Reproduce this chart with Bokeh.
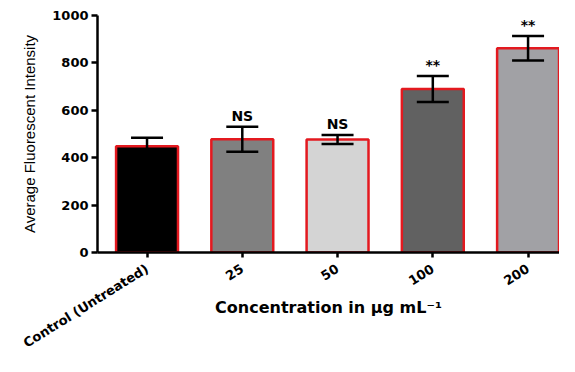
from bokeh.plotting import figure
from bokeh.models import ColumnDataSource, Range1d, FixedTicker, Whisker, TeeHead
from bokeh.core.properties import value
from bokeh.embed import file_html
from bokeh.resources import INLINE

# ---- data ----
categories = ["Control (Untreated)", "25", "50", "100", "200"]
means = [448, 478, 477, 690, 862]
errors = [36, 53, 19, 55, 52]
bar_colors = ["#000000", "#808080", "#d4d4d4", "#616161", "#a1a1a5"]
annotations = ["", "NS", "NS", "**", "**"]
y_ticks = [0, 200, 400, 600, 800, 1000]

positions = list(range(len(categories)))
src = ColumnDataSource(dict(
    x=positions,
    top=means,
    upper=[m + e for m, e in zip(means, errors)],
    lower=[m - e for m, e in zip(means, errors)],
    color=bar_colors,
    note=annotations,
))

p = figure(width=559, height=356, output_backend="svg", toolbar_location=None,
           x_range=Range1d(-0.52, 4.33), y_range=Range1d(0, 1000),
           min_border_left=97, min_border_right=0, min_border_top=15,
           min_border_bottom=104)
p.outline_line_color = None
p.xgrid.visible = False
p.ygrid.visible = False
p.background_fill_color = "white"

p.vbar(x="x", top="top", width=0.65, bottom=0, source=src,
       fill_color="color", line_color="#e3191f", line_width=2.5)

w = Whisker(source=src, base="x", upper="upper", lower="lower",
            line_color="black", line_width=2.5, level="annotation",
            upper_head=TeeHead(size=32, line_color="black", line_width=2.5),
            lower_head=TeeHead(size=32, line_color="black", line_width=2.5))
p.add_layout(w)

p.text(x="x", y="upper", text="note", source=src, text_align="center",
       text_baseline="bottom", y_offset=-3,
       text_font=value("DejaVu Sans"), text_font_style="bold",
       text_font_size="14px", text_color="black")

# axes
for ax in (p.xaxis[0], p.yaxis[0]):
    ax.axis_line_width = 2.5
    ax.axis_line_color = "black"
    ax.major_tick_line_width = 2.5
    ax.major_tick_line_color = "black"
    ax.minor_tick_line_color = None
    ax.major_tick_in = 0
    ax.major_label_text_font = "DejaVu Sans"
    ax.major_label_text_font_style = "bold"
    ax.major_label_text_font_size = "13px"
    ax.major_label_text_color = "black"

xa = p.xaxis[0]
xa.ticker = FixedTicker(ticks=positions)
xa.major_label_overrides = {i: c for i, c in zip(positions, categories)}
xa.major_label_orientation = 0.56
xa.major_label_text_font_size = "13px"
xa.major_tick_out = 5
xa.major_label_standoff = 10
xa.axis_label = "Concentration in \u03bcg mL\u207b\u00b9"
xa.axis_label_text_font = "DejaVu Sans"
xa.axis_label_text_font_style = "bold"
xa.axis_label_text_font_size = "16px"
xa.axis_label_text_color = "black"
xa.axis_label_standoff = -62

ya = p.yaxis[0]
ya.ticker = FixedTicker(ticks=y_ticks)
ya.major_tick_out = 6
ya.major_label_standoff = 3
ya.axis_label = "Average Fluorescent Intensity"
ya.axis_label_text_font = "Liberation Sans"
ya.axis_label_text_font_style = "normal"
ya.axis_label_text_font_size = "15px"
ya.axis_label_text_color = "black"
ya.axis_label_standoff = 11

open("out.html", "w").write(file_html(p, INLINE))
